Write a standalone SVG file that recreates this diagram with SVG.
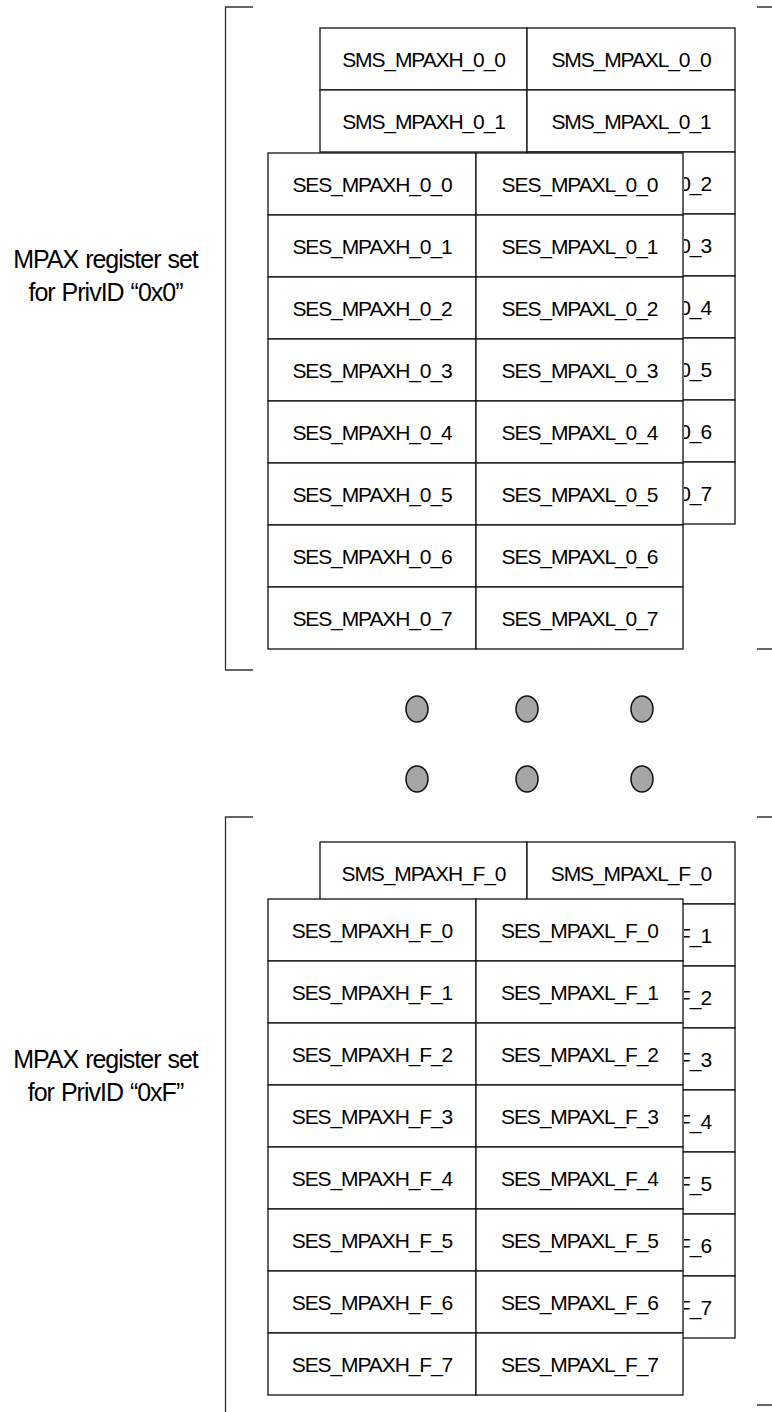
<svg xmlns="http://www.w3.org/2000/svg" width="772" height="1412" viewBox="0 0 772 1412">
<defs>
<clipPath id="peek0"><rect x="684" y="150" width="60" height="380"/></clipPath>
<clipPath id="peekF"><rect x="684" y="900" width="60" height="440"/></clipPath>
</defs>
<style>
.box{fill:#fff;stroke:#111;stroke-width:1.3}
.t{font-family:"Liberation Sans",Arial,sans-serif;font-size:21px;letter-spacing:-1.1px;text-anchor:middle;fill:#000}
.pk{font-family:"Liberation Sans",Arial,sans-serif;font-size:21px;letter-spacing:-1.1px;text-anchor:end;fill:#000}
.lbl{font-family:"Liberation Sans",Arial,sans-serif;font-size:25px;letter-spacing:-1px;word-spacing:1px;text-anchor:middle;fill:#000}
.br{fill:none;stroke:#333;stroke-width:1.3}
.dot{fill:#a6a6a6;stroke:#111;stroke-width:1.5}
</style>
<rect x="0" y="0" width="772" height="1412" fill="#fff"/>
<g id="brackets">
<path class="br" d="M253,7 H225.5 V670 H253"/>
<path class="br" d="M757,7 H772 M757,649 H772"/>
<path class="br" d="M253,817 H225.5 V1412"/>
<path class="br" d="M757,817 H772 M757,1405 H772"/>
</g>
<g id="label-0x0"><text class="lbl" x="105.5" y="268">MPAX register set</text><text class="lbl" x="105.5" y="301">for PrivID “0x0”</text></g>
<g id="label-0xF"><text class="lbl" x="105.5" y="1068">MPAX register set</text><text class="lbl" x="105.5" y="1101">for PrivID “0xF”</text></g>

<g id="sms-0">
<g id="sms-h-0-0"><rect class="box" x="320" y="28" width="207" height="62"/><text class="t" x="423.5" y="67">SMS_MPAXH_0_0</text></g>
<g id="sms-l-0-0"><rect class="box" x="527" y="28" width="208" height="62"/><text class="t" x="631" y="67">SMS_MPAXL_0_0</text></g>
<g id="sms-h-0-1"><rect class="box" x="320" y="90" width="207" height="62"/><text class="t" x="423.5" y="129">SMS_MPAXH_0_1</text></g>
<g id="sms-l-0-1"><rect class="box" x="527" y="90" width="208" height="62"/><text class="t" x="631" y="129">SMS_MPAXL_0_1</text></g>
<g id="sms-l-0-2"><rect class="box" x="527" y="152" width="208" height="62"/><text class="pk" clip-path="url(#peek0)" x="711" y="191">0_2</text></g>
<g id="sms-l-0-3"><rect class="box" x="527" y="214" width="208" height="62"/><text class="pk" clip-path="url(#peek0)" x="711" y="253">0_3</text></g>
<g id="sms-l-0-4"><rect class="box" x="527" y="276" width="208" height="62"/><text class="pk" clip-path="url(#peek0)" x="711" y="315">0_4</text></g>
<g id="sms-l-0-5"><rect class="box" x="527" y="338" width="208" height="62"/><text class="pk" clip-path="url(#peek0)" x="711" y="377">0_5</text></g>
<g id="sms-l-0-6"><rect class="box" x="527" y="400" width="208" height="62"/><text class="pk" clip-path="url(#peek0)" x="711" y="439">0_6</text></g>
<g id="sms-l-0-7"><rect class="box" x="527" y="462" width="208" height="62"/><text class="pk" clip-path="url(#peek0)" x="711" y="501">0_7</text></g>
</g>

<g id="ses-0">
<g id="ses-h-0-0"><rect class="box" x="268" y="153" width="208" height="62"/><text class="t" x="372" y="192">SES_MPAXH_0_0</text></g>
<g id="ses-l-0-0"><rect class="box" x="476" y="153" width="207" height="62"/><text class="t" x="579.5" y="192">SES_MPAXL_0_0</text></g>
<g id="ses-h-0-1"><rect class="box" x="268" y="215" width="208" height="62"/><text class="t" x="372" y="254">SES_MPAXH_0_1</text></g>
<g id="ses-l-0-1"><rect class="box" x="476" y="215" width="207" height="62"/><text class="t" x="579.5" y="254">SES_MPAXL_0_1</text></g>
<g id="ses-h-0-2"><rect class="box" x="268" y="277" width="208" height="62"/><text class="t" x="372" y="316">SES_MPAXH_0_2</text></g>
<g id="ses-l-0-2"><rect class="box" x="476" y="277" width="207" height="62"/><text class="t" x="579.5" y="316">SES_MPAXL_0_2</text></g>
<g id="ses-h-0-3"><rect class="box" x="268" y="339" width="208" height="62"/><text class="t" x="372" y="378">SES_MPAXH_0_3</text></g>
<g id="ses-l-0-3"><rect class="box" x="476" y="339" width="207" height="62"/><text class="t" x="579.5" y="378">SES_MPAXL_0_3</text></g>
<g id="ses-h-0-4"><rect class="box" x="268" y="401" width="208" height="62"/><text class="t" x="372" y="440">SES_MPAXH_0_4</text></g>
<g id="ses-l-0-4"><rect class="box" x="476" y="401" width="207" height="62"/><text class="t" x="579.5" y="440">SES_MPAXL_0_4</text></g>
<g id="ses-h-0-5"><rect class="box" x="268" y="463" width="208" height="62"/><text class="t" x="372" y="502">SES_MPAXH_0_5</text></g>
<g id="ses-l-0-5"><rect class="box" x="476" y="463" width="207" height="62"/><text class="t" x="579.5" y="502">SES_MPAXL_0_5</text></g>
<g id="ses-h-0-6"><rect class="box" x="268" y="525" width="208" height="62"/><text class="t" x="372" y="564">SES_MPAXH_0_6</text></g>
<g id="ses-l-0-6"><rect class="box" x="476" y="525" width="207" height="62"/><text class="t" x="579.5" y="564">SES_MPAXL_0_6</text></g>
<g id="ses-h-0-7"><rect class="box" x="268" y="587" width="208" height="62"/><text class="t" x="372" y="626">SES_MPAXH_0_7</text></g>
<g id="ses-l-0-7"><rect class="box" x="476" y="587" width="207" height="62"/><text class="t" x="579.5" y="626">SES_MPAXL_0_7</text></g>
</g>

<g id="dots">
<ellipse class="dot" cx="417" cy="709" rx="11" ry="13"/>
<ellipse class="dot" cx="527" cy="709" rx="11" ry="13"/>
<ellipse class="dot" cx="642" cy="709" rx="11" ry="13"/>
<ellipse class="dot" cx="417" cy="779" rx="11" ry="13"/>
<ellipse class="dot" cx="527" cy="779" rx="11" ry="13"/>
<ellipse class="dot" cx="642" cy="779" rx="11" ry="13"/>
</g>

<g id="sms-F">
<g id="sms-h-F-0"><rect class="box" x="320" y="842" width="207" height="62"/><text class="t" x="423.5" y="881">SMS_MPAXH_F_0</text></g>
<g id="sms-l-F-0"><rect class="box" x="527" y="842" width="208" height="62"/><text class="t" x="631" y="881">SMS_MPAXL_F_0</text></g>
<g id="sms-l-F-1"><rect class="box" x="527" y="904" width="208" height="62"/><text class="pk" clip-path="url(#peekF)" x="711" y="943">F_1</text></g>
<g id="sms-l-F-2"><rect class="box" x="527" y="966" width="208" height="62"/><text class="pk" clip-path="url(#peekF)" x="711" y="1005">F_2</text></g>
<g id="sms-l-F-3"><rect class="box" x="527" y="1028" width="208" height="62"/><text class="pk" clip-path="url(#peekF)" x="711" y="1067">F_3</text></g>
<g id="sms-l-F-4"><rect class="box" x="527" y="1090" width="208" height="62"/><text class="pk" clip-path="url(#peekF)" x="711" y="1129">F_4</text></g>
<g id="sms-l-F-5"><rect class="box" x="527" y="1152" width="208" height="62"/><text class="pk" clip-path="url(#peekF)" x="711" y="1191">F_5</text></g>
<g id="sms-l-F-6"><rect class="box" x="527" y="1214" width="208" height="62"/><text class="pk" clip-path="url(#peekF)" x="711" y="1253">F_6</text></g>
<g id="sms-l-F-7"><rect class="box" x="527" y="1276" width="208" height="62"/><text class="pk" clip-path="url(#peekF)" x="711" y="1315">F_7</text></g>
</g>

<g id="ses-F">
<g id="ses-h-F-0"><rect class="box" x="268" y="899" width="208" height="62"/><text class="t" x="372" y="938">SES_MPAXH_F_0</text></g>
<g id="ses-l-F-0"><rect class="box" x="476" y="899" width="207" height="62"/><text class="t" x="579.5" y="938">SES_MPAXL_F_0</text></g>
<g id="ses-h-F-1"><rect class="box" x="268" y="961" width="208" height="62"/><text class="t" x="372" y="1000">SES_MPAXH_F_1</text></g>
<g id="ses-l-F-1"><rect class="box" x="476" y="961" width="207" height="62"/><text class="t" x="579.5" y="1000">SES_MPAXL_F_1</text></g>
<g id="ses-h-F-2"><rect class="box" x="268" y="1023" width="208" height="62"/><text class="t" x="372" y="1062">SES_MPAXH_F_2</text></g>
<g id="ses-l-F-2"><rect class="box" x="476" y="1023" width="207" height="62"/><text class="t" x="579.5" y="1062">SES_MPAXL_F_2</text></g>
<g id="ses-h-F-3"><rect class="box" x="268" y="1085" width="208" height="62"/><text class="t" x="372" y="1124">SES_MPAXH_F_3</text></g>
<g id="ses-l-F-3"><rect class="box" x="476" y="1085" width="207" height="62"/><text class="t" x="579.5" y="1124">SES_MPAXL_F_3</text></g>
<g id="ses-h-F-4"><rect class="box" x="268" y="1147" width="208" height="62"/><text class="t" x="372" y="1186">SES_MPAXH_F_4</text></g>
<g id="ses-l-F-4"><rect class="box" x="476" y="1147" width="207" height="62"/><text class="t" x="579.5" y="1186">SES_MPAXL_F_4</text></g>
<g id="ses-h-F-5"><rect class="box" x="268" y="1209" width="208" height="62"/><text class="t" x="372" y="1248">SES_MPAXH_F_5</text></g>
<g id="ses-l-F-5"><rect class="box" x="476" y="1209" width="207" height="62"/><text class="t" x="579.5" y="1248">SES_MPAXL_F_5</text></g>
<g id="ses-h-F-6"><rect class="box" x="268" y="1271" width="208" height="62"/><text class="t" x="372" y="1310">SES_MPAXH_F_6</text></g>
<g id="ses-l-F-6"><rect class="box" x="476" y="1271" width="207" height="62"/><text class="t" x="579.5" y="1310">SES_MPAXL_F_6</text></g>
<g id="ses-h-F-7"><rect class="box" x="268" y="1333" width="208" height="62"/><text class="t" x="372" y="1372">SES_MPAXH_F_7</text></g>
<g id="ses-l-F-7"><rect class="box" x="476" y="1333" width="207" height="62"/><text class="t" x="579.5" y="1372">SES_MPAXL_F_7</text></g>
</g>
</svg>
